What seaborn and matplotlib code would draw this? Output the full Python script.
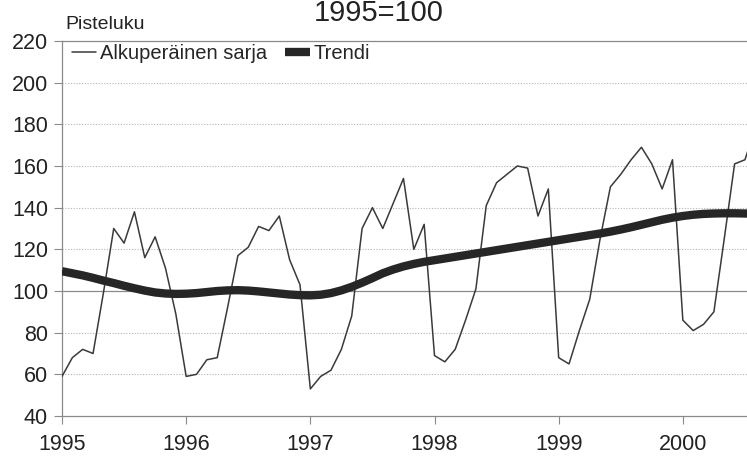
import numpy as np
import pandas as pd
import matplotlib
matplotlib.use('Agg')
import matplotlib.pyplot as plt
import seaborn as sns

# ====================================================================================================

# data (monthly, Jan 1995 -> Aug 2000)
original = [
    59, 68, 72, 70, 99, 130, 123, 138, 116, 126, 111, 89,      # 1995
    59, 60, 67, 68, 92, 117, 121, 131, 129, 136, 115, 103,     # 1996
    53, 59, 62, 72, 88, 130, 140, 130, 142, 154, 120, 132,     # 1997
    69, 66, 72, 86, 101, 141, 152, 156, 160, 159, 136, 149,    # 1998
    68, 65, 81, 96, 125, 150, 156, 163, 169, 161, 149, 163,    # 1999
    86, 81, 84, 90, 125, 161, 163, 178,                        # 2000
]
trend = [
    109.5, 108.5, 107.5, 106.3, 105.0, 103.8, 102.5, 101.3, 100.2, 99.3, 98.8, 98.6,
    98.7, 99.0, 99.5, 100.0, 100.3, 100.4, 100.2, 99.8, 99.3, 98.8, 98.3, 98.0,
    97.9, 98.2, 99.0, 100.3, 102.0, 104.0, 106.2, 108.5, 110.3, 111.8, 113.0, 114.0,
    114.8, 115.6, 116.4, 117.2, 118.0, 118.8, 119.6, 120.4, 121.2, 122.0, 122.8, 123.6,
    124.4, 125.2, 126.0, 126.8, 127.6, 128.5, 129.5, 130.6, 131.8, 133.0, 134.2, 135.2,
    136.0, 136.6, 137.0, 137.2, 137.3, 137.3, 137.2, 137.1,
]
year_ticks = [1995, 1996, 1997, 1998, 1999, 2000]
y_ticks = [40, 60, 80, 100, 120, 140, 160, 180, 200, 220]

series_label = 'Alkuperäinen sarja'
trend_label = 'Trendi'

# ====================================================================================================

months = pd.date_range('1995-01-01', periods=len(original), freq='MS')
df = pd.DataFrame({
    'aika': months.year + (months.month - 1) / 12,
    'sarja': original,
    'trendi': trend,
})

sns.set_style('white')
plt.rcParams['font.family'] = ['Liberation Sans', 'DejaVu Sans']

fig = plt.figure(figsize=(7.47, 4.58), dpi=100)
ax = fig.add_axes([62 / 747, 1 - 416 / 458, 1 - 62 / 747, (416 - 41) / 458])

# gridlines first so lines sit on top
for y in y_ticks[1:-1]:
    if y == 100:
        ax.axhline(y, color='#8a8a8a', lw=0.9, zorder=1)
    else:
        ax.axhline(y, color='#b5b5b5', lw=0.8, ls=(0, (1, 1.5)), zorder=1)

sns.lineplot(data=df, x='aika', y='sarja', ax=ax, color='#3a3a3a', lw=1.1,
             label=series_label, zorder=3)
sns.lineplot(data=df, x='aika', y='trendi', ax=ax, color='#262626', lw=6,
             label=trend_label, zorder=4, solid_capstyle='butt')

ax.set_xlim(1995, 1995 + 66.2 / 12)
ax.set_ylim(40, 220)
ax.set_xticks(year_ticks)
ax.set_xticklabels([str(y) for y in year_ticks])
ax.set_yticks(y_ticks)
ax.set_xlabel('')
ax.set_ylabel('')

ax.tick_params(axis='both', labelsize=15.5, colors='#222222', length=6, width=0.8,
               direction='out', color='#8a8a8a')
ax.tick_params(axis='y', pad=4)
ax.tick_params(axis='x', pad=7)
ax.yaxis.set_ticks_position('left')
ax.xaxis.set_ticks_position('bottom')

for side in ['left', 'bottom', 'top']:
    ax.spines[side].set_color('#8a8a8a')
    ax.spines[side].set_linewidth(0.9)
ax.spines['right'].set_visible(False)

ax.legend(loc='upper left', bbox_to_anchor=(72 / 747, 1 - 44 / 458),
          bbox_transform=fig.transFigure, ncol=2, frameon=False, fontsize=14.5,
          handlelength=1.2, handletextpad=0.2, columnspacing=0.9,
          borderaxespad=0, borderpad=0)

fig.text(65 / 747, 1 - 29 / 458, 'Pisteluku', fontsize=14, color='#222222', va='baseline')
fig.text(379 / 747, 1 - 21 / 458, '1995=100', fontsize=21, color='#222222',
         ha='center', va='baseline')

plt.savefig('out.png', dpi=100)
